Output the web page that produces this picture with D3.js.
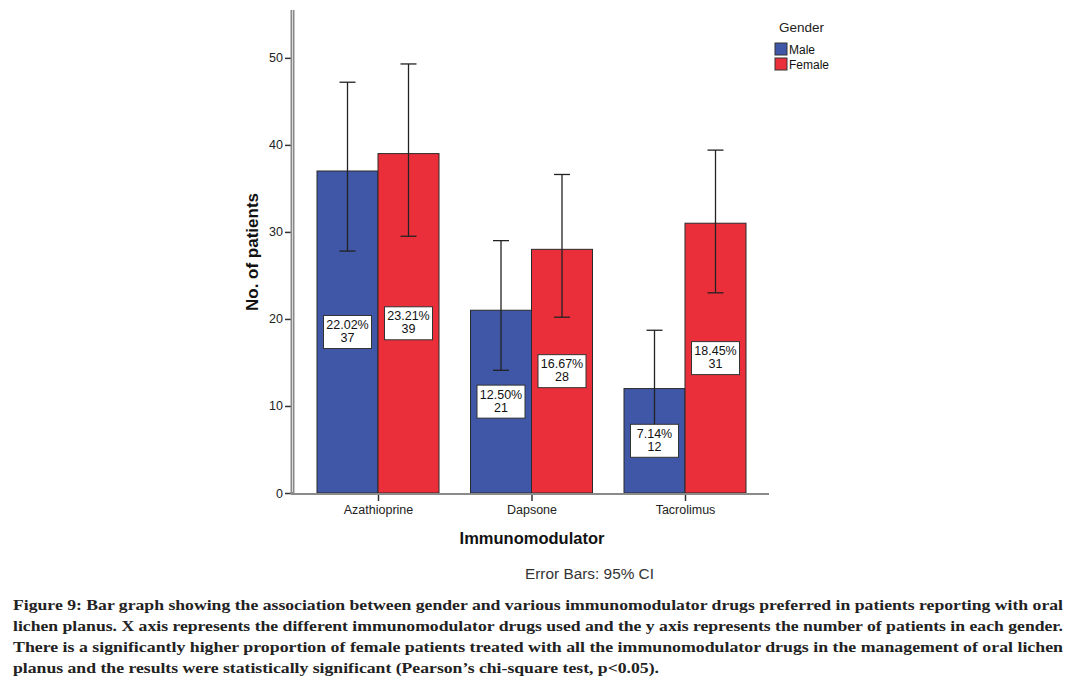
<!DOCTYPE html>
<html><head><meta charset="utf-8">
<script src="https://cdn.jsdelivr.net/npm/d3@7"></script>
<style>body{margin:0;background:#fff}svg{display:block}</style>
</head><body>
<svg id="c" width="1084" height="684"></svg>
<script>
const categories = ["Azathioprine", "Dapsone", "Tacrolimus"];
const genders = ["Male", "Female"];
const maleValues = [37, 21, 12];
const femaleValues = [39, 28, 31];
const malePercents = ["22.02%", "12.50%", "7.14%"];
const femalePercents = ["23.21%", "16.67%", "18.45%"];
const maleCILow = [27.8, 14.1, 7.0];
const maleCIHigh = [47.2, 29.0, 18.7];
const femaleCILow = [29.5, 20.2, 23.0];
const femaleCIHigh = [49.3, 36.6, 39.4];
const yTicks = [0, 10, 20, 30, 40, 50];
const colors = {Male: "#3f57a6", Female: "#eb2f3a"};
const captionLines = [
 "Figure 9: Bar graph showing the association between gender and various immunomodulator drugs preferred in patients reporting with oral",
 "lichen planus. X axis represents the different immunomodulator drugs used and the y axis represents the number of patients in each gender.",
 "There is a significantly higher proportion of female patients treated with all the immunomodulator drugs in the management of oral lichen",
 "planus and the results were statistically significant (Pearson’s chi-square test, p<0.05)."
];

const data = [];
categories.forEach((c, i) => {
  data.push({cat: c, g: "Male", v: maleValues[i], pct: malePercents[i], lo: maleCILow[i], hi: maleCIHigh[i]});
  data.push({cat: c, g: "Female", v: femaleValues[i], pct: femalePercents[i], lo: femaleCILow[i], hi: femaleCIHigh[i]});
});

const svg = d3.select("#c");
const font = "'Liberation Sans', Arial, sans-serif";
const y = d3.scaleLinear().domain([0, 55.5]).range([493, 10]);
const x = d3.scalePoint().domain(categories).range([378, 685]);
const xs = d3.scaleBand().domain(genders).range([-61, 61]).padding(0);

// bars
const g = svg.append("g");
g.selectAll("rect.bar").data(data).join("rect")
  .attr("x", d => x(d.cat) + xs(d.g))
  .attr("y", d => y(d.v))
  .attr("width", xs.bandwidth())
  .attr("height", d => y(0) - y(d.v))
  .attr("fill", d => colors[d.g])
  .attr("stroke", "#2a2a2a").attr("stroke-width", 1);

// error bars
const eb = g.selectAll("g.eb").data(data).join("g").attr("stroke", "#222").attr("stroke-width", 1.3);
const cx = d => x(d.cat) + xs(d.g) + xs.bandwidth() / 2;
eb.append("line").attr("x1", cx).attr("x2", cx).attr("y1", d => y(d.lo)).attr("y2", d => y(d.hi));
eb.append("line").attr("x1", d => cx(d) - 8).attr("x2", d => cx(d) + 8).attr("y1", d => y(d.lo)).attr("y2", d => y(d.lo));
eb.append("line").attr("x1", d => cx(d) - 8).attr("x2", d => cx(d) + 8).attr("y1", d => y(d.hi)).attr("y2", d => y(d.hi));

// label boxes
const lb = g.selectAll("g.lb").data(data).join("g")
  .attr("transform", d => `translate(${cx(d)},${y(d.v / 2)})`);
lb.append("rect").attr("x", -24).attr("y", -16.5).attr("width", 48).attr("height", 33)
  .attr("fill", "#fff").attr("stroke", "#333").attr("stroke-width", 1);
lb.append("text").attr("y", -3).attr("text-anchor", "middle").attr("font-family", font).attr("font-size", 12.5)
  .attr("fill", "#111").text(d => d.pct);
lb.append("text").attr("y", 10).attr("text-anchor", "middle").attr("font-family", font).attr("font-size", 12.5)
  .attr("fill", "#111").text(d => d.v);

// y axis
const yAxis = svg.append("g").attr("transform", "translate(292,0)")
  .call(d3.axisLeft(y).tickValues(yTicks).tickSize(7).tickPadding(2).tickFormat(d3.format("d")));
yAxis.select(".domain").remove();
yAxis.selectAll(".tick line").attr("stroke", "#333").attr("stroke-width", 1.5);
yAxis.selectAll(".tick text").attr("font-family", font).attr("font-size", 12.5).attr("fill", "#222");
svg.append("line").attr("x1", 292.5).attr("x2", 292.5).attr("y1", 10).attr("y2", 494).attr("stroke", "#8a8a8a").attr("stroke-width", 4);
svg.append("line").attr("x1", 292.5).attr("x2", 292.5).attr("y1", 10).attr("y2", 492).attr("stroke", "#d8d8d8").attr("stroke-width", 1);

// x axis
const xAxis = svg.append("g").attr("transform", "translate(0,494)")
  .call(d3.axisBottom(x).tickSize(7).tickPadding(4));
xAxis.select(".domain").remove();
xAxis.selectAll(".tick line").attr("stroke", "#333").attr("stroke-width", 1.5);
xAxis.selectAll(".tick text").attr("font-family", font).attr("font-size", 12.5).attr("fill", "#222");
svg.append("line").attr("x1", 291).attr("x2", 769).attr("y1", 494).attr("y2", 494).attr("stroke", "#8a8a8a").attr("stroke-width", 2);

// axis titles
svg.append("text").attr("transform", "translate(258,252) rotate(-90)").attr("text-anchor", "middle")
  .attr("font-family", font).attr("font-size", 17).attr("font-weight", "bold").attr("fill", "#111").text("No. of patients");
svg.append("text").attr("x", 532).attr("y", 544).attr("text-anchor", "middle")
  .attr("font-family", font).attr("font-size", 16.5).attr("font-weight", "bold").attr("fill", "#111").text("Immunomodulator");

// legend
svg.append("text").attr("x", 779).attr("y", 32).attr("font-family", font).attr("font-size", 13.5).attr("fill", "#222").text("Gender");
const lg = svg.selectAll("g.lg").data(genders).join("g").attr("transform", (d, i) => `translate(775,${43 + i * 15})`);
lg.append("rect").attr("width", 12).attr("height", 12).attr("fill", d => colors[d]).attr("stroke", "#333").attr("stroke-width", 1);
lg.append("text").attr("x", 14).attr("y", 11).attr("font-family", font).attr("font-size", 12).attr("fill", "#111").text(d => d);

// error bar note
svg.append("text").attr("x", 525).attr("y", 579).attr("font-family", font).attr("font-size", 14).attr("fill", "#333")
  .attr("textLength", 129).attr("lengthAdjust", "spacingAndGlyphs").text("Error Bars: 95% CI");

// caption
const capW = [1050, 1050, 1050, 646];
svg.selectAll("text.cap").data(captionLines).join("text")
  .attr("x", 13).attr("y", (d, i) => 610 + i * 21)
  .attr("font-family", "'Liberation Serif', 'Times New Roman', serif").attr("font-weight", "bold").attr("font-size", 15)
  .attr("fill", "#222").attr("textLength", (d, i) => capW[i]).attr("lengthAdjust", "spacingAndGlyphs").text(d => d);
</script>
</body></html>
